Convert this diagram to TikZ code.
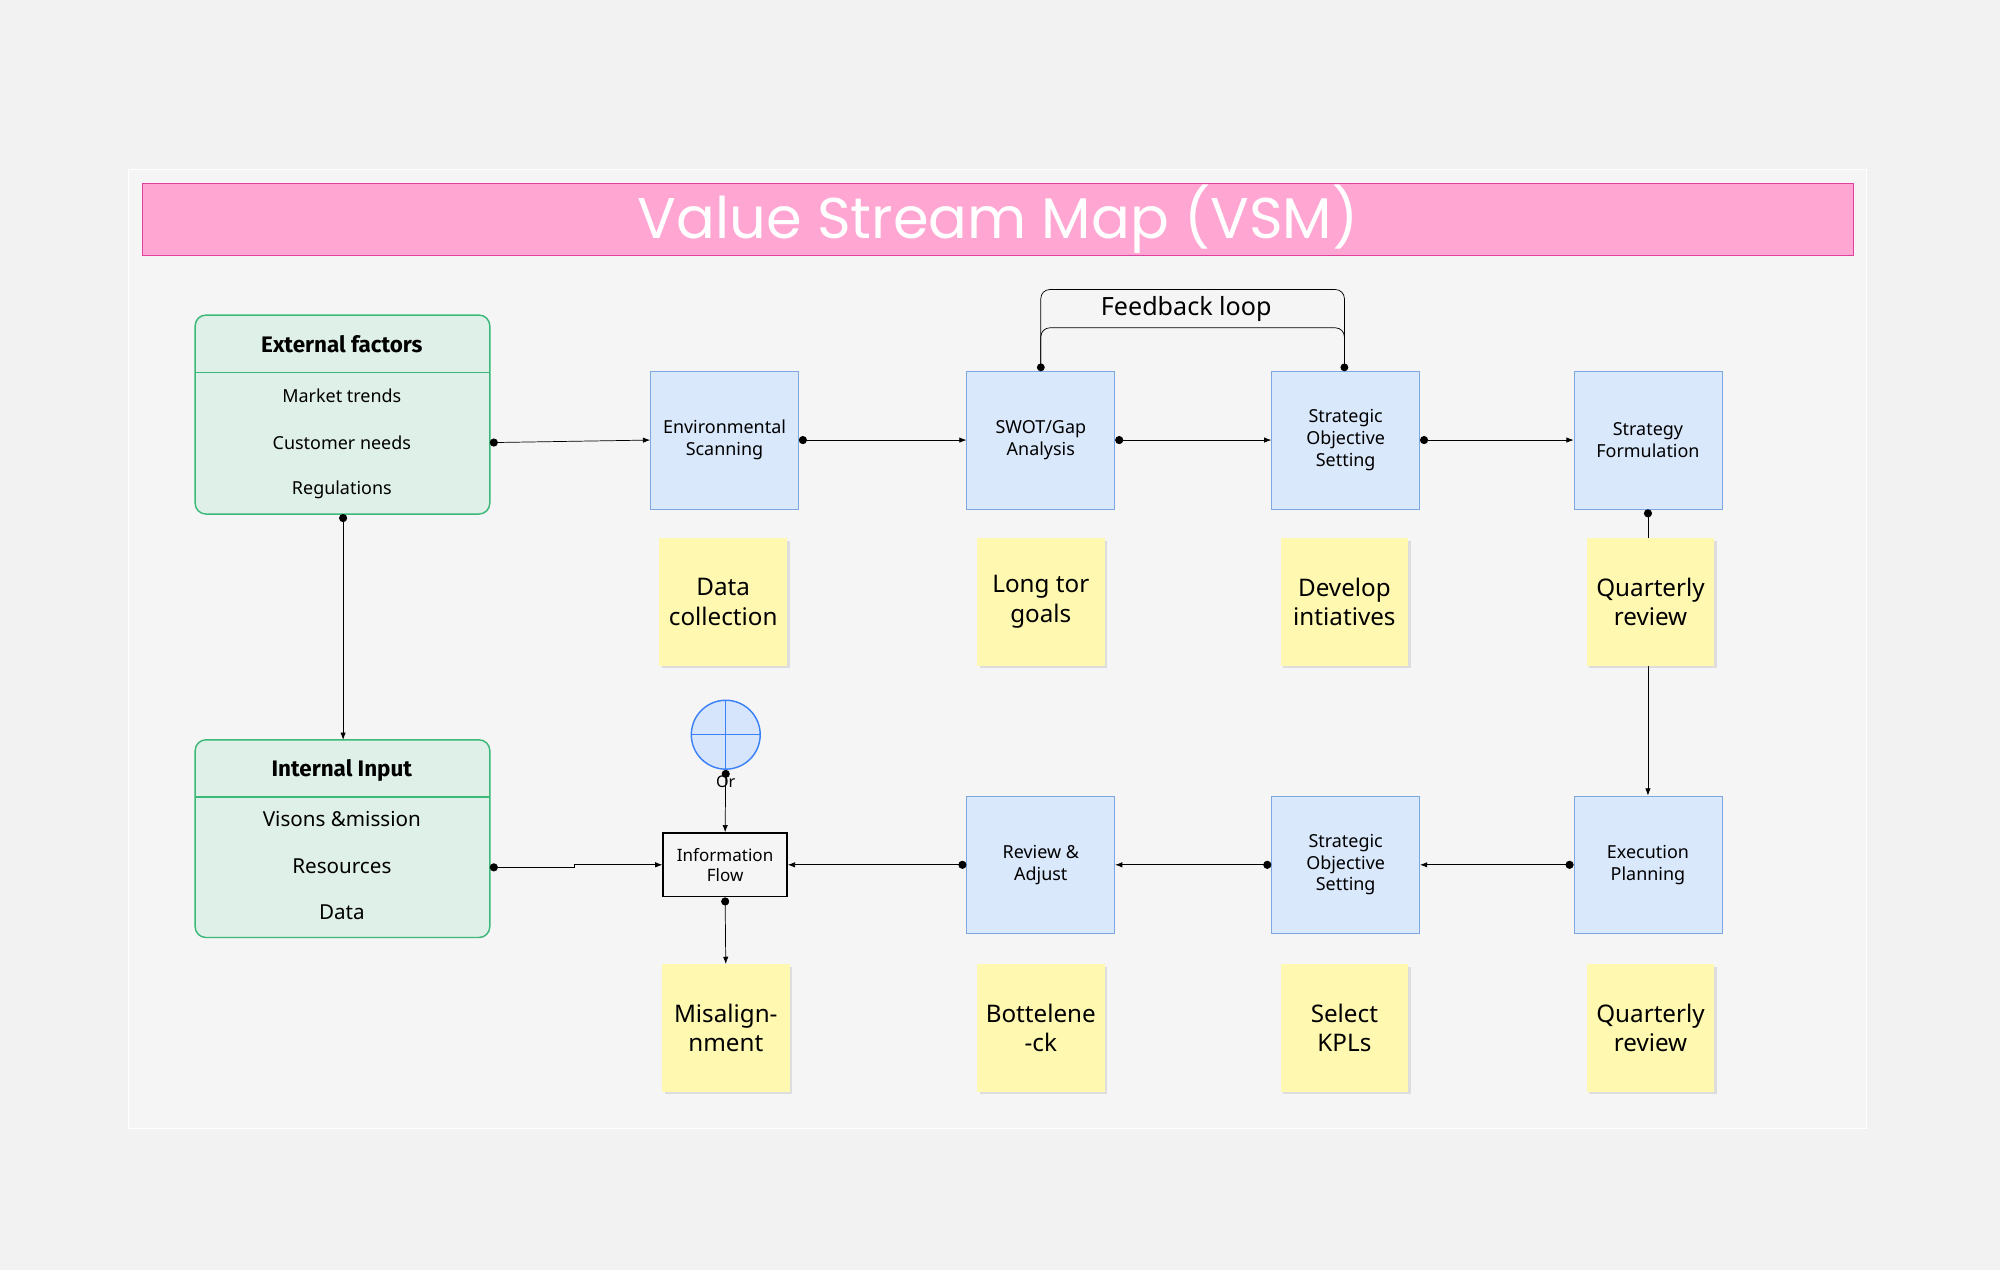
\documentclass[tikz,border=0pt]{standalone}
\usepackage{fontspec}
\setmainfont{Noto Sans}
\newfontfamily\titlefont{Poppins}
\newfontfamily\headfont{Fira Sans}[BoldFont={Fira Sans Bold}]
\usepackage{tikz}
\usetikzlibrary{arrows.meta,shadows,positioning}
\definecolor{bgcol}{HTML}{F2F2F2}
\definecolor{panelcol}{HTML}{F5F5F5}
\definecolor{pinkfill}{HTML}{FFA6D2}
\definecolor{pinkline}{HTML}{E0409E}
\definecolor{greenfill}{HTML}{DFF0E8}
\definecolor{greenline}{HTML}{3CB878}
\definecolor{bluefill}{HTML}{DAE8FC}
\definecolor{blueline}{HTML}{7EA6E0}
\definecolor{stickyfill}{HTML}{FFF8B0}
\definecolor{orline}{HTML}{3A80F6}
\definecolor{orfill}{HTML}{D6E5FC}
\begin{document}
\begin{tikzpicture}[x=0.025cm,y=-0.025cm]
		\tikzstyle{etape}=[draw=blueline,fill=bluefill,rectangle,minimum width=2.9cm,minimum height=2.7cm,align=center,font=\fontsize{10}{12}\selectfont,inner sep=0pt]
		\tikzstyle{note}=[fill=stickyfill,rectangle,minimum width=2.5cm,minimum height=2.5cm,align=center,font=\fontsize{13.5}{16.5}\selectfont,drop shadow={opacity=0.2,shadow xshift=0.5mm,shadow yshift=-0.5mm}]
		\tikzstyle{groupe}=[draw=greenline,fill=greenfill,rounded corners=6pt,thick]
		\tikzstyle{entete}=[font=\headfont\bfseries\fontsize{12.5}{14}\selectfont]
		\tikzstyle{item}=[font=\fontsize{10}{12}\selectfont]
		\tikzstyle{lien}=[{Circle[length=4.5pt]}-{Latex[length=4pt,width=3pt]},thin]
		% fond
		\fill[bgcol] (0,0) rectangle (1568,996);
		\fill[panelcol,draw=white] (101,133) rectangle (1463,885);
		\node[draw=pinkline,fill=pinkfill,minimum width=33.525cm,minimum height=1.42cm,inner sep=0pt,text=white,font=\titlefont\fontsize{32}{36}\selectfont] (T) at (782.5,172) {Value Stream Map (VSM)};
		% entrees
		\draw[groupe] (153,247) rectangle (384,403);
		\draw[greenline,thick] (153,292) -- (384,292);
		\node[entete] (EF) at (268,270) {External factors};
		\node[item] (EF1) at (268,310) {Market trends};
		\node[item] (EF2) at (268,347) {Customer needs};
		\node[item] (EF3) at (268,384) {Regulations};
		\coordinate (EFr) at (384,347);
		\coordinate (EFb) at (269,403);
		\draw[groupe] (153,580) rectangle (384,735);
		\draw[greenline,thick] (153,625) -- (384,625);
		\node[entete] (II) at (268,604) {Internal Input};
		\node[item,font=\fontsize{11.5}{14}\selectfont] (II1) at (268,642) {Visons \&mission};
		\node[item,font=\fontsize{11.5}{14}\selectfont] (II2) at (268,679) {Resources};
		\node[item,font=\fontsize{11.5}{14}\selectfont] (II3) at (268,715) {Data};
		\coordinate (IIr) at (384,680);
		\coordinate (IIt) at (269,580);
		% etapes
		\node[etape] (ES) at (568,345) {Environmental\\Scanning};
		\node[etape] (SW) at (816,345) {SWOT/Gap\\Analysis};
		\node[etape] (SO) at (1055,345) {Strategic\\Objective\\Setting};
		\node[etape] (SF) at (1292,345) {Strategy\\Formulation};
		\node[etape] (EP) at (1292,678) {Execution\\Planning};
		\node[etape] (SO2) at (1055,678) {Strategic\\Objective\\Setting};
		\node[etape] (RA) at (816,678) {Review \&\\Adjust};
		\node[draw,thick,rectangle,minimum width=2.43cm,minimum height=1.25cm,align=center,font=\fontsize{9.5}{11}\selectfont] (IF) at (568.5,678) {Information\\Flow};
		\node[draw=orline,fill=orfill,thick,circle,minimum size=1.35cm] (OR) at (569,576) {};
		\draw[orline,thick] (OR.north) -- (OR.south) (OR.west) -- (OR.east);
		\node[font=\fontsize{9}{10}\selectfont,inner sep=0pt] (ORl) at (569,613) {Or};
		% feedback
		\draw[rounded corners=5pt] (816,288) -- (816,227) -- (1054,227) -- (1054,288);
		\draw[rounded corners=5pt] (816,288) -- (816,257) -- (1054,257) -- (1054,288);
		\node[font=\fontsize{14}{16}\selectfont] (FB) at (930,242) {Feedback loop};
		\fill (816,288) circle (2.2pt) (1054,288) circle (2.2pt);
		% liens
		\draw[lien] (EFr) -- (ES.west);
		\draw[lien] (ES.east) -- (SW.west);
		\draw[lien] (SW.east) -- (SO.west);
		\draw[lien] (SO.east) -- (SF.west);
		\draw[lien] (EFb) -- (IIt);
		\draw[lien] (SF.south) -- (EP.north);
		\draw[lien] (EP.west) -- (SO2.east);
		\draw[lien] (SO2.west) -- (RA.east);
		\draw[lien] (RA.west) -- (IF.east);
		\draw[lien] (IIr) -- (450,680) -- (450,678) -- (IF.west);
		\draw[lien] (OR.south) -- (IF.north);
		% notes
		\node[note] (N1) at (567,472) {Data\\collection};
		\node[note] (N2) at (816,472) {Long tor\\goals};
		\node[note] (N3) at (1054,472) {Develop\\intiatives};
		\node[note] (N4) at (1294,472) {Quarterly\\review};
		\node[note] (N5) at (569,806) {Misalign-\\nment};
		\node[note] (N6) at (816,806) {Bottelene\\-ck};
		\node[note] (N7) at (1054,806) {Select\\KPLs};
		\node[note] (N8) at (1294,806) {Quarterly\\review};
		\draw[lien] (IF.south) -- (N5.north);
	\end{tikzpicture}
\end{document}
